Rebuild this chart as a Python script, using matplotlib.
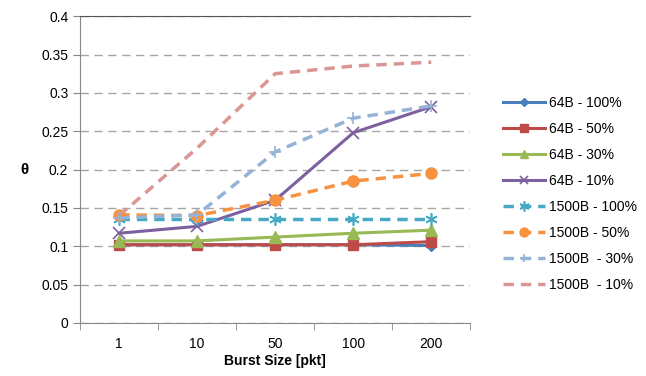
import matplotlib
matplotlib.use("Agg")
import matplotlib.pyplot as plt
import numpy as np

plt.rcParams['font.family'] = ['Liberation Sans', 'DejaVu Sans']

burst = ["1", "10", "50", "100", "200"]

b64_100 = [0.102, 0.102, 0.102, 0.102, 0.101]
b64_50 = [0.102, 0.102, 0.102, 0.102, 0.106]
b64_30 = [0.107, 0.107, 0.112, 0.117, 0.121]
b64_10 = [0.117, 0.126, 0.160, 0.248, 0.282]
b1500_100 = [0.136, 0.136, 0.136, 0.136, 0.136]
b1500_50 = [0.141, 0.140, 0.160, 0.185, 0.195]
b1500_30 = [0.137, 0.141, 0.223, 0.267, 0.283]
b1500_10 = [0.140, 0.228, 0.325, 0.335, 0.340]

labels = ["64B - 100%", "64B - 50%", "64B - 30%", "64B - 10%",
          "1500B - 100%", "1500B - 50%", "1500B  - 30%", "1500B  - 10%"]

fig = plt.figure(figsize=(6.46, 3.76), dpi=100)
ax = fig.add_axes([0.124, 0.141, 0.604, 0.816])

x = np.arange(len(burst)) + 0.5

# solid lines for 64B
ax.plot(x, b64_100, color='#4A7EBB', lw=2.2, marker='D', ms=5, label=labels[0])
ax.plot(x, b64_50, color='#BE4B48', lw=2.2, marker='s', ms=7, label=labels[1])
ax.plot(x, b64_30, color='#98B954', lw=2.2, marker='^', ms=8, label=labels[2])
ax.plot(x, b64_10, color='#7D60A0', lw=2.2, marker='x', ms=8, mew=1.2, label=labels[3])
# dashed lines for 1500B
ax.plot(x, b1500_100, color='#46AAC5', lw=2.5, ls=(0, (3, 2)), marker=(6, 2, 0), ms=9, mew=1.2, label=labels[4])
ax.plot(x, b1500_50, color='#F69240', lw=2.5, ls=(0, (3, 2)), marker='o', ms=8, label=labels[5])
ax.plot(x, b1500_30, color='#95B3D7', lw=2.5, ls=(0, (3, 2)), marker='+', ms=8, mew=1.2, label=labels[6])
ax.plot(x, b1500_10, color='#D99694', lw=2.5, ls=(0, (3, 2)), label=labels[7])

ax.set_xlim(0, len(burst))
ax.set_ylim(0, 0.4)
ax.set_yticks(np.arange(0, 0.41, 0.05))
ax.set_yticklabels(["0", "0.05", "0.1", "0.15", "0.2", "0.25", "0.3", "0.35", "0.4"], fontsize=10)
ax.set_xticks(x)
ax.set_xticklabels(burst, fontsize=10)
ax.set_xticks(np.arange(len(burst) + 1), minor=True)
ax.tick_params(axis='x', which='major', length=0, pad=10)
ax.tick_params(axis='x', which='minor', length=5, color='#888888')
ax.tick_params(axis='y', length=5, color='#888888')

ax.yaxis.grid(True, color='#A6A6A6', ls=(0, (6, 4)), lw=1)
ax.set_axisbelow(True)
for s in ['left', 'bottom']:
    ax.spines[s].set_color('#888888')
ax.spines['right'].set_visible(False)
ax.spines['top'].set_color('#555555')

ax.set_xlabel("Burst Size [pkt]", fontsize=10, fontweight='bold', labelpad=2)
ax.set_ylabel("θ", fontsize=11, fontweight='bold', rotation=0, labelpad=12, va='center')

fig.legend(loc='center left', bbox_to_anchor=(0.76, 0.484), frameon=False,
           fontsize=10, handlelength=3.0, labelspacing=0.87, handletextpad=0.3,
           markerscale=0.8)

fig.savefig("out.png", dpi=100)
